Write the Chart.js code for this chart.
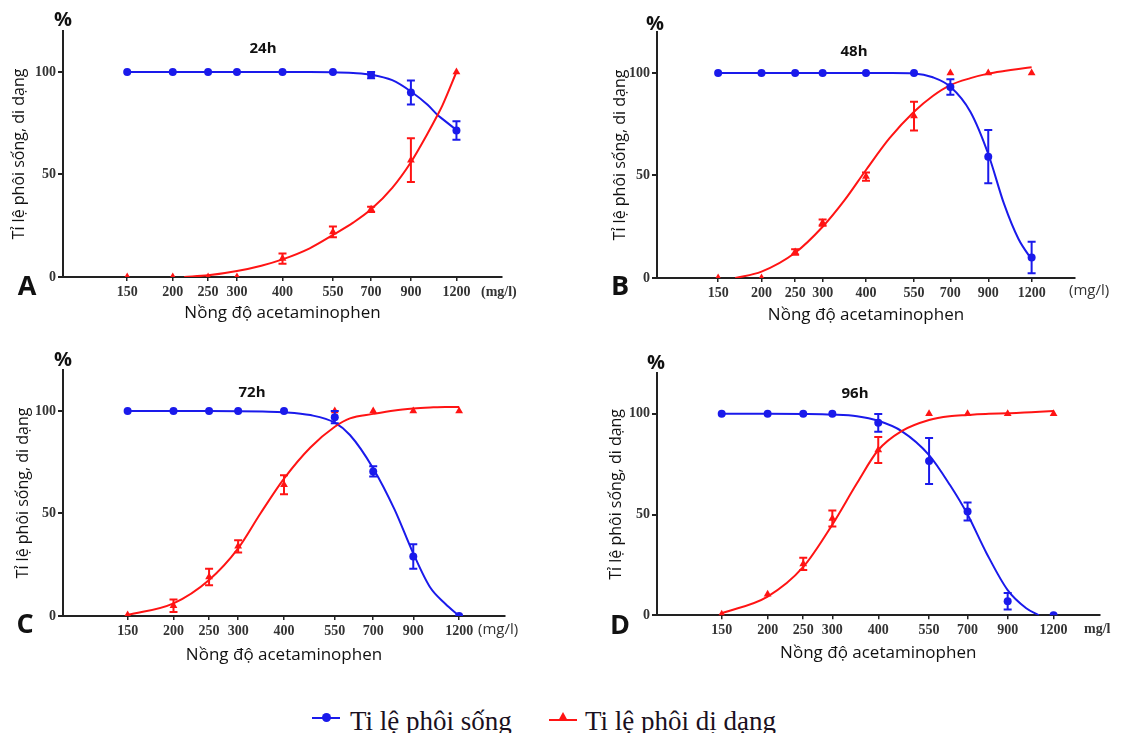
<!DOCTYPE html>
<html>
<head>
<meta charset="utf-8">
<script src="https://cdn.jsdelivr.net/npm/chart.js@4.4.1/dist/chart.umd.min.js"></script>
<style>
body { margin: 0; background: #fff; }
#page { position: relative; width: 1123px; height: 733px; overflow: hidden; }
.panel { position: absolute; }
.legend-text { position: absolute; top: 706px; font: 27px "Liberation Serif", serif; color: #1a1020; white-space: nowrap; line-height: 30px; }
.mk-line { position: absolute; height: 2px; width: 28px; }
.dot { position: absolute; width: 9px; height: 9px; border-radius: 50%; background: #1a1aeb; }
.tri { position: absolute; width: 0; height: 0; border-left: 5px solid transparent; border-right: 5px solid transparent; border-bottom: 9px solid #ff1414; }
</style>
</head>
<body>
<div id="page">
  <div class="panel" style="left:0;top:0;width:560px;height:340px"><canvas id="chartA"></canvas></div>
  <div class="panel" style="left:560px;top:0;width:563px;height:340px"><canvas id="chartB"></canvas></div>
  <div class="panel" style="left:0;top:340px;width:560px;height:340px"><canvas id="chartC"></canvas></div>
  <div class="panel" style="left:560px;top:340px;width:563px;height:340px"><canvas id="chartD"></canvas></div>

  <div class="mk-line" style="left:312px;top:717px;background:#1a1aeb"></div>
  <div class="dot" style="left:322px;top:713px"></div>
  <div class="legend-text" style="left:350px">Ti lệ phôi sống</div>
  <div class="mk-line" style="left:549px;top:719px;background:#ff1414"></div>
  <div class="tri" style="left:558px;top:712px"></div>
  <div class="legend-text" style="left:585px">Ti lệ phôi dị dạng</div>
</div>
<script>
// nong do (mg/l)
const doses = [150, 200, 250, 300, 400, 550, 700, 900, 1200];
const percentTicks = [0, 50, 100];

// 24h
const song24 = [100, 100, 100, 100, 100, 100, 98.5, 90, 71.5];
const songErr24 = [0, 0, 0, 0, 0, 0, 1.5, 5.8, 4.5];
const diDang24 = [0, 0, 0, 0, 9, 22, 33, 57, 100];
const diDangErr24 = [0, 0, 0, 0, 2.5, 2.6, 1.3, 10.7, 0];
const songFitX24 = [150, 200, 250, 300, 350, 400, 475, 550, 625, 700, 800, 900, 1000, 1065, 1100, 1200];
const songFit24 = [100, 100, 100, 100, 100, 100, 100, 99.9, 99.5, 98.7, 96, 90.5, 84, 79, 77, 71.7];
const diDangFitX24 = [215, 250, 300, 350, 400, 475, 550, 625, 700, 800, 900, 1000, 1065, 1100, 1200];
const diDangFit24 = [0, 0.8, 2.9, 5.5, 8.6, 14, 20.5, 26.5, 33, 43.5, 56, 70, 79, 84, 100];

// 48h
const song48 = [100, 100, 100, 100, 100, 100, 93.2, 59.2, 10];
const songErr48 = [0, 0, 0, 0, 0, 0, 3.8, 13, 7.7];
const diDang48 = [0, 0, 12.7, 27, 49.5, 79, 100, 100, 100];
const diDangErr48 = [0, 0, 1.3, 1.5, 2, 7, 0, 0, 0];
const songFitX48 = [150, 200, 250, 300, 350, 400, 475, 550, 623, 700, 800, 900, 1000, 1100, 1200];
const songFit48 = [100, 100, 100, 100, 100, 100, 100, 99.8, 97.9, 93.3, 81, 60.5, 36, 19, 9];
const diDangFitX48 = [168, 200, 250, 300, 347, 400, 467, 550, 623, 700, 800, 900, 1000, 1100, 1200];
const diDangFit48 = [0, 3.1, 12.3, 25, 38, 52.7, 68.1, 81.1, 88.8, 94.1, 97.5, 99.7, 101, 102, 102.8];

// 72h
const song72 = [100, 100, 100, 100, 100, 97, 70.5, 29, 0];
const songErr72 = [0, 0, 0, 0, 0, 3, 2.5, 6, 0];
const diDang72 = [0.5, 5, 19, 34, 64, 100, 100, 100, 100];
const diDangErr72 = [0, 3, 4, 3, 4.6, 0, 0, 0, 0];
const songFitX72 = [150, 200, 250, 300, 350, 400, 472, 550, 605, 700, 800, 900, 1000, 1100, 1200];
const songFit72 = [100, 100, 100, 99.9, 99.7, 99.4, 98, 94.3, 88.3, 72, 52, 30.5, 14, 6, 0];
const diDangFitX72 = [150, 200, 250, 300, 345, 400, 472, 550, 605, 700, 800, 900, 1000, 1100, 1200];
const diDangFit72 = [0.5, 6.2, 17.6, 33, 50, 67, 82.2, 92.3, 96.4, 98.6, 100.3, 101.2, 101.7, 102, 102];

// 96h
const song96 = [100, 100, 100, 100, 95.5, 76.5, 51.5, 7, 0];
const songErr96 = [0, 0, 0, 0, 4.4, 11.4, 4.5, 4.1, 0];
const diDang96 = [0.5, 10.5, 25.5, 48, 82, 100, 100, 100, 100];
const diDangErr96 = [0, 0, 3, 4, 6.5, 0, 0, 0, 0];
const songFitX96 = [150, 200, 250, 300, 350, 400, 463, 550, 627, 700, 789, 900, 1011, 1095];
const songFit96 = [100, 100, 99.9, 99.6, 98.8, 96.5, 91.4, 79.5, 64.6, 50, 30.7, 12.5, 3.5, 0];
const diDangFitX96 = [150, 200, 250, 300, 350, 400, 463, 550, 625, 700, 800, 900, 1000, 1100, 1200];
const diDangFit96 = [1, 9.3, 24, 45, 65.5, 82, 91.4, 96.9, 98.8, 99.4, 100, 100.2, 100.6, 101, 101.3];

const BLUE = '#1a1aeb';
const RED = '#ff1414';
const AXIS = '#222';

Chart.defaults.font.family = '"Open Sans", sans-serif';
Chart.defaults.color = '#111';

const pts = (xs, ys) => xs.map((x, i) => ({ x: x, y: ys[i] }));

function makeChart(p) {
    const extras = {
        id: 'extras',
        afterDatasetsDraw(chart) {
            const ctx = chart.ctx, x = chart.scales.x, y = chart.scales.y;
            [[p.song, p.songErr, BLUE], [p.diDang, p.diDangErr, RED]].forEach(([vals, errs, color]) => {
                ctx.save();
                ctx.strokeStyle = color;
                ctx.lineWidth = 2;
                vals.forEach((v, i) => {
                    const d = errs[i];
                    if (!d) return;
                    const px = x.getPixelForValue(doses[i]);
                    const top = y.getPixelForValue(v + d);
                    const bot = y.getPixelForValue(v - d);
                    ctx.beginPath();
                    ctx.moveTo(px, top); ctx.lineTo(px, bot);
                    ctx.moveTo(px - 4, top); ctx.lineTo(px + 4, top);
                    ctx.moveTo(px - 4, bot); ctx.lineTo(px + 4, bot);
                    ctx.stroke();
                });
                ctx.restore();
            });
        },
        afterDraw(chart) {
            const ctx = chart.ctx;
            ctx.save();
            ctx.fillStyle = '#111';
            ctx.textAlign = 'center';
            ctx.textBaseline = 'middle';
            ctx.font = 'bold 20px "Open Sans", sans-serif';
            ctx.fillText('%', p.pct[0], p.pct[1]);
            ctx.font = 'bold 15px "Open Sans", sans-serif';
            ctx.fillText(p.title, p.titlePos[0], p.titlePos[1]);
            ctx.font = 'bold 27px "Open Sans", sans-serif';
            ctx.fillText(p.letter, p.letterPos[0], p.letterPos[1]);
            ctx.textAlign = 'left';
            ctx.font = p.unitFont;
            ctx.fillStyle = '#333';
            ctx.fillText(p.unit, p.unitPos[0], p.unitPos[1]);
            ctx.restore();
        }
    };

    return new Chart(document.getElementById(p.id), {
        type: 'scatter',
        data: {
            datasets: [
                {
                    data: pts(p.songFitX, p.songFit), showLine: true, borderColor: BLUE, borderWidth: 2,
                    pointRadius: 0, cubicInterpolationMode: 'monotone', order: 3
                },
                {
                    data: pts(p.diDangFitX, p.diDangFit), showLine: true, borderColor: RED, borderWidth: 2,
                    pointRadius: 0, cubicInterpolationMode: 'monotone', order: 2
                },
                {
                    data: pts(doses, p.song), pointStyle: 'circle', pointRadius: 4,
                    backgroundColor: BLUE, borderColor: BLUE, borderWidth: 0, order: 1
                },
                {
                    data: pts(doses, p.diDang), pointStyle: 'triangle', pointRadius: 4.5,
                    backgroundColor: RED, borderColor: RED, borderWidth: 0, order: 0
                }
            ]
        },
        options: {
            responsive: true,
            maintainAspectRatio: false,
            animation: false,
            layout: { padding: p.pad },
            plugins: { legend: { display: false }, tooltip: { enabled: false } },
            scales: {
                x: {
                    type: 'logarithmic', min: 100, max: 1600, bounds: 'data',
                    afterBuildTicks: s => { s.ticks = doses.map(v => ({ value: v })); },
                    afterFit: s => { s.height = p.xH; },
                    grid: { display: true, drawOnChartArea: false, drawTicks: true, tickLength: 4, color: AXIS, lineWidth: 1.5 },
                    border: { display: true, color: AXIS, width: 2 },
                    ticks: {
                        autoSkip: false, maxRotation: 0, padding: 3, color: '#333',
                        font: { family: '"Liberation Serif", serif', weight: 'bold', size: 14 },
                        callback: v => String(v)
                    },
                    title: {
                        display: true, text: 'Nồng độ acetaminophen', color: '#111',
                        font: { size: 17 }, padding: { top: 0, bottom: 2 }
                    }
                },
                y: {
                    min: 0, max: 120,
                    afterBuildTicks: s => { s.ticks = percentTicks.map(v => ({ value: v })); },
                    afterFit: s => { s.width = p.yW; },
                    grid: { display: true, drawOnChartArea: false, drawTicks: true, tickLength: 5, color: AXIS, lineWidth: 2 },
                    border: { display: true, color: AXIS, width: 2 },
                    ticks: {
                        padding: 2, color: '#333',
                        font: { family: '"Liberation Serif", serif', weight: 'bold', size: 14 }
                    },
                    title: {
                        display: true, text: 'Tỉ lệ phôi sống, di dạng', color: '#111',
                        font: { size: 16 }, padding: { top: 2, bottom: 0 }
                    }
                }
            }
        },
        plugins: [extras]
    });
}

makeChart({
    id: 'chartA', title: '24h', letter: 'A', unit: '(mg/l)', unitFont: 'bold 14px "Liberation Serif", serif',
    song: song24, songErr: songErr24, diDang: diDang24, diDangErr: diDangErr24,
    songFitX: songFitX24, songFit: songFit24, diDangFitX: diDangFitX24, diDangFit: diDangFit24,
    pad: { left: 8, top: 31, right: 58, bottom: 14.8 }, yW: 55, xH: 48.2,
    pct: [63, 20], titlePos: [263, 49], letterPos: [27, 287], unitPos: [481, 292]
});
makeChart({
    id: 'chartB', title: '48h', letter: 'B', unit: '(mg/l)', unitFont: '15px "Open Sans", sans-serif',
    song: song48, songErr: songErr48, diDang: diDang48, diDangErr: diDangErr48,
    songFitX: songFitX48, songFit: songFit48, diDangFitX: diDangFitX48, diDangFit: diDangFit48,
    pad: { left: 49, top: 32, right: 48, bottom: 13 }, yW: 48, xH: 49,
    pct: [95, 24], titlePos: [294, 52], letterPos: [60, 287], unitPos: [509, 291]
});
makeChart({
    id: 'chartC', title: '72h', letter: 'C', unit: '(mg/l)', unitFont: '15px "Open Sans", sans-serif',
    song: song72, songErr: songErr72, diDang: diDang72, diDangErr: diDangErr72,
    songFitX: songFitX72, songFit: songFit72, diDangFitX: diDangFitX72, diDangFit: diDangFit72,
    pad: { left: 12, top: 30, right: 55, bottom: 12.8 }, yW: 51, xH: 51.2,
    pct: [63, 20], titlePos: [252, 53], letterPos: [25, 285], unitPos: [478, 290]
});
makeChart({
    id: 'chartD', title: '96h', letter: 'D', unit: 'mg/l', unitFont: 'bold 14px "Liberation Serif", serif',
    song: song96, songErr: songErr96, diDang: diDang96, diDangErr: diDangErr96,
    songFitX: songFitX96, songFit: songFit96, diDangFitX: diDangFitX96, diDangFit: diDangFit96,
    pad: { left: 45, top: 33.4, right: 23.5, bottom: 14.5 }, yW: 52, xH: 50.2,
    pct: [96, 23], titlePos: [295, 54], letterPos: [60, 286], unitPos: [524, 289]
});
</script>
</body>
</html>
